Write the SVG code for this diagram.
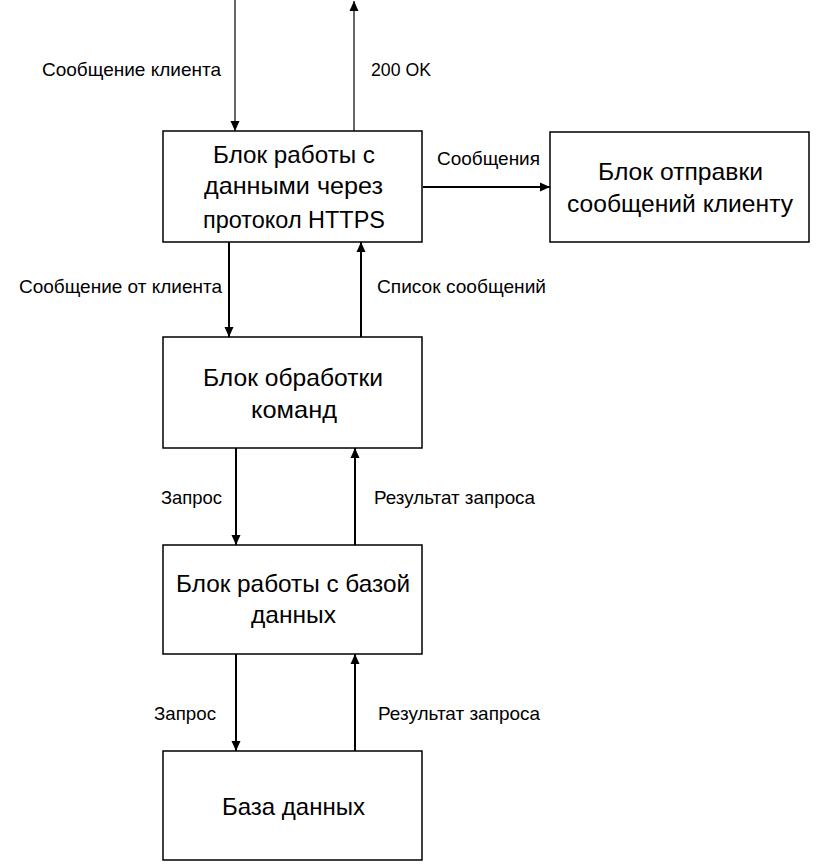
<svg xmlns="http://www.w3.org/2000/svg" width="817" height="868" viewBox="0 0 817 868">
<style>
.box{fill:#fff;stroke:#000;stroke-width:1.5}
.bt{font-family:"Liberation Sans",Arial,sans-serif;font-size:24px;fill:#000;text-anchor:middle}
.lb{font-family:"Liberation Sans",Arial,sans-serif;font-size:18.5px;fill:#000}
.c{fill:none;stroke:#000;stroke-width:2}
.thin{stroke-width:1.2}
</style>
<defs>
<marker id="ah" markerUnits="userSpaceOnUse" viewBox="0 0 10 10" refX="10" refY="5" markerWidth="10" markerHeight="10" orient="auto">
<path d="M0,0.5 L10,5 L0,9.5 Z" fill="#000"/>
</marker>
</defs>
<rect width="817" height="868" fill="#fff"/>
<g id="connectors">
<line class="c thin" x1="235" y1="0" x2="235" y2="131" marker-end="url(#ah)"/>
<line class="c thin" x1="354" y1="131" x2="354" y2="1" marker-end="url(#ah)"/>
<line class="c" x1="423" y1="187" x2="550" y2="187" marker-end="url(#ah)"/>
<line class="c" x1="229" y1="242" x2="229" y2="337" marker-end="url(#ah)"/>
<line class="c" x1="361" y1="337" x2="361" y2="242" marker-end="url(#ah)"/>
<line class="c" x1="236" y1="448" x2="236" y2="545" marker-end="url(#ah)"/>
<line class="c" x1="355" y1="545" x2="355" y2="448" marker-end="url(#ah)"/>
<line class="c" x1="236" y1="654" x2="236" y2="751" marker-end="url(#ah)"/>
<line class="c" x1="355" y1="751" x2="355" y2="654" marker-end="url(#ah)"/>
<text class="lb" x="42" y="76" textLength="179" lengthAdjust="spacingAndGlyphs">Сообщение клиента</text>
<text class="lb" x="371" y="76" textLength="60" lengthAdjust="spacingAndGlyphs">200 OK</text>
<text class="lb" x="437" y="165" textLength="103" lengthAdjust="spacingAndGlyphs">Сообщения</text>
<text class="lb" x="19" y="293" textLength="203" lengthAdjust="spacingAndGlyphs">Сообщение от клиента</text>
<text class="lb" x="377" y="293" textLength="169" lengthAdjust="spacingAndGlyphs">Список сообщений</text>
<text class="lb" x="161" y="504" textLength="61" lengthAdjust="spacingAndGlyphs">Запрос</text>
<text class="lb" x="374" y="504" textLength="161" lengthAdjust="spacingAndGlyphs">Результат запроса</text>
<text class="lb" x="154" y="720" textLength="62" lengthAdjust="spacingAndGlyphs">Запрос</text>
<text class="lb" x="378" y="720" textLength="162" lengthAdjust="spacingAndGlyphs">Результат запроса</text>
</g>
<g id="node-https">
<rect class="box" x="163" y="131" width="259" height="111"/>
<text class="bt" x="294" y="163" textLength="162" lengthAdjust="spacingAndGlyphs">Блок работы с</text>
<text class="bt" x="293.5" y="194" textLength="179" lengthAdjust="spacingAndGlyphs">данными через</text>
<text class="bt" x="294" y="228" textLength="182" lengthAdjust="spacingAndGlyphs">протокол HTTPS</text>
</g>
<g id="node-send">
<rect class="box" x="550" y="132" width="259" height="110"/>
<text class="bt" x="680.5" y="180" textLength="165" lengthAdjust="spacingAndGlyphs">Блок отправки</text>
<text class="bt" x="680" y="212" textLength="226" lengthAdjust="spacingAndGlyphs">сообщений клиенту</text>
</g>
<g id="node-commands">
<rect class="box" x="163" y="337" width="259" height="111"/>
<text class="bt" x="293" y="386" textLength="180" lengthAdjust="spacingAndGlyphs">Блок обработки</text>
<text class="bt" x="294" y="418" textLength="86" lengthAdjust="spacingAndGlyphs">команд</text>
</g>
<g id="node-dbblock">
<rect class="box" x="163" y="545" width="259" height="109"/>
<text class="bt" x="293" y="592" textLength="234" lengthAdjust="spacingAndGlyphs">Блок работы с базой</text>
<text class="bt" x="293.5" y="623" textLength="85" lengthAdjust="spacingAndGlyphs">данных</text>
</g>
<g id="node-db">
<rect class="box" x="163" y="751" width="259" height="109"/>
<text class="bt" x="293.5" y="815" textLength="143" lengthAdjust="spacingAndGlyphs">База данных</text>
</g>
</svg>
